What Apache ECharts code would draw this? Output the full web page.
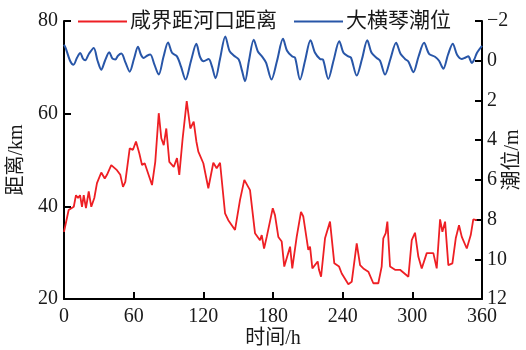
<!DOCTYPE html>
<html>
<head>
<meta charset="utf-8">
<script src="https://cdn.jsdelivr.net/npm/echarts@6/dist/echarts.min.js"></script>
<style>
  html, body { margin: 0; padding: 0; background: #fff; }
  #chart { width: 526px; height: 350px; }
</style>
</head>
<body>
<div id="chart"></div>
<script>
// Salt-intrusion front distance from the estuary mouth (km) vs. time (h)
const distHours = [0, 1.1, 4.0, 8.4, 10.3, 12.1, 13.8, 15.5, 17.0, 18.9, 21.3, 23.5, 26.1, 28.4, 32.1, 35.1, 37.0, 40.7, 45.6, 48.5,
  50.8, 52.8, 56.6, 59.4, 62.0, 64.9, 67.2, 69.5, 75.8, 78.6, 81.6, 83.8, 85.9, 88.1, 90.7, 94.5, 97.3, 99.3, 102.2, 105.7,
  108.8, 111.7, 114.0, 115.7, 120.0, 124.3, 128.6, 131.5, 134.4, 138.7, 141.5, 147.3, 151.6, 155.3, 160.2, 164.5, 168.8, 170.3, 172.3, 174.6,
  179.8, 181.7, 184.6, 187.5, 189.7, 194.7, 196.6, 200.4, 204.1, 206.1, 210.4, 211.9, 213.9, 218.5, 219.6, 221.4, 224.8, 229.1, 232.8, 236.9,
  239.2, 244.9, 247.8, 252.1, 255.0, 257.8, 262.1, 266.4, 270.7, 273.6, 275.0, 277.1, 278.5, 280.8, 285.1, 289.4, 296.6, 299.5, 302.3, 305.2,
  308.1, 312.4, 318.1, 321.0, 323.9, 325.9, 328.2, 331.0, 334.5, 337.4, 340.2, 342.6, 346.9, 350.3, 352.5, 355.5];
const distKm = [34.5, 34.9, 39.2, 39.9, 42.4, 41.8, 42.4, 39.9, 42.4, 39.6, 43.2, 39.9, 41.8, 45.0, 47.3, 46.0, 46.8, 48.9, 47.8, 46.8,
  44.2, 45.3, 52.5, 52.2, 54.0, 51.4, 48.9, 49.3, 44.6, 49.6, 60.1, 54.7, 53.2, 56.8, 49.6, 48.5, 50.4, 46.8, 54.7, 62.7,
  56.8, 58.3, 54.0, 51.8, 49.3, 43.9, 49.4, 48.2, 49.4, 38.5, 37.0, 34.9, 41.4, 45.7, 43.5, 34.2, 32.7, 33.8, 30.9, 33.4,
  39.6, 38.1, 33.4, 32.4, 27.0, 31.3, 26.6, 33.4, 38.8, 37.8, 30.6, 31.3, 26.6, 28.1, 26.3, 24.8, 33.1, 36.7, 27.7, 27.0,
  25.5, 23.2, 23.7, 32.0, 27.3, 26.6, 25.9, 23.4, 23.4, 27.0, 33.1, 34.2, 36.7, 27.0, 26.3, 26.3, 24.8, 32.7, 34.3, 29.1,
  26.6, 29.9, 29.9, 26.6, 37.2, 34.5, 36.7, 27.3, 27.7, 33.1, 35.9, 33.4, 30.9, 33.8, 37.2, 37.0];

// Tide level at Dahengqin (m)
const tideHours = [0, 1.7, 5.2, 8.2, 11.2, 14.0, 16.4, 18.3, 21.5, 25.6, 28.9, 32.1, 35.3, 39.0, 41.8, 44.2, 46.5, 49.4, 53.0, 56.6,
  60.3, 63.7, 66.3, 68.6, 71.5, 74.3, 77.9, 81.6, 85.7, 89.6, 93.0, 97.3, 100.8, 104.7, 109.4, 114.0, 117.1, 120.3, 124.6, 127.5,
  130.5, 134.4, 138.9, 142.5, 146.2, 150.5, 153.3, 155.9, 159.3, 163.4, 167.1, 170.5, 174.0, 178.7, 183.5, 188.6, 192.1, 196.4, 199.0, 203.3,
  207.6, 212.3, 216.2, 220.5, 223.1, 227.6, 232.1, 237.1, 240.7, 244.9, 247.2, 252.1, 256.7, 261.2, 264.9, 269.3, 272.2, 276.5, 281.2, 286.0,
  289.8, 293.7, 296.7, 300.9, 305.3, 310.1, 314.4, 319.5, 323.0, 326.7, 330.7, 334.8, 338.5, 342.5, 345.4, 348.2, 351.2, 353.2, 355.7, 360];
const tideLevel = [-0.8, -0.6, 0.0, 0.2, -0.15, -0.39, -0.1, -0.02, -0.35, -0.64, 0.0, 0.45, 0.0, -0.42, -0.1, -0.06, -0.25, -0.36, 0.1, 0.55,
  -0.1, -0.7, -0.3, -0.14, -0.25, -0.31, 0.2, 0.7, -0.2, -0.92, -0.4, -0.22, 0.3, 0.95, 0.0, -0.85, -0.2, 0.03, -0.09, 0.3,
  0.88, -0.1, -1.22, -0.5, -0.26, -0.06, 0.5, 1.04, 0.0, -1.05, -0.45, -0.22, 0.1, 0.95, 0.0, -1.1, -0.5, -0.22, -0.15, 0.95,
  0.0, -1.03, -0.4, -0.09, -0.05, 0.92, 0.0, -0.98, -0.4, -0.22, -0.15, 0.75, -0.1, -1.03, -0.4, -0.14, 0.0, 0.7, -0.1, -0.9,
  -0.35, -0.09, 0.05, 0.58, -0.2, -0.9, -0.35, -0.2, 0.0, 0.4, -0.3, -0.86, -0.3, -0.09, -0.15, -0.22, 0.11, -0.05, -0.4, -0.75];

const seriesNames = ['咸界距河口距离', '大横琴潮位'];
const xAxisName = '时间/h';
const leftAxisName = '距离/km';
const rightAxisName = '潮位/m';

const FONT = "'Liberation Serif', 'Noto Sans CJK SC', serif";
const INK = '#1a1a1a';
const RED = '#ee1f24';
const BLUE = '#2856a8';

const pair = (xs, ys) => xs.map((x, i) => [x, ys[i]]);

const axisCommon = {
  axisLine: { show: true, onZero: false, lineStyle: { color: '#000', width: 2 } },
  axisTick: { show: true, inside: true, length: 7, lineStyle: { color: '#000', width: 2 } },
  splitLine: { show: false },
  axisLabel: { color: INK, fontFamily: FONT, fontSize: 20 },
  nameTextStyle: { color: INK, fontFamily: FONT, fontSize: 20 },
  nameMoveOverlap: false
};

const chart = echarts.init(document.getElementById('chart'), null, { renderer: 'canvas' });
chart.setOption({
  animation: false,
  backgroundColor: '#fff',
  grid: { left: 64, right: 44, top: 21, bottom: 51, containLabel: false, outerBoundsMode: 'none' },
  legend: {
    left: 78,
    top: 11,
    padding: 0,
    itemWidth: 49,
    itemHeight: 2,
    itemGap: 17,
    icon: 'rect',
    textStyle: { color: INK, fontFamily: FONT, fontSize: 21, padding: [0, 0, 0, -2] },
    data: seriesNames
  },
  xAxis: Object.assign({}, axisCommon, {
    type: 'value',
    min: 0,
    max: 360,
    interval: 60,
    name: xAxisName,
    nameLocation: 'middle',
    nameGap: 30,
    axisLabel: Object.assign({}, axisCommon.axisLabel, { margin: 8 })
  }),
  yAxis: [
    Object.assign({}, axisCommon, {
      type: 'value',
      position: 'left',
      min: 20,
      max: 80,
      interval: 20,
      name: leftAxisName,
      nameLocation: 'middle',
      nameGap: 37,
      nameRotate: 90,
      axisLabel: Object.assign({}, axisCommon.axisLabel, { margin: 6 })
    }),
    Object.assign({}, axisCommon, {
      type: 'value',
      position: 'right',
      inverse: true,
      min: -2,
      max: 12,
      interval: 2,
      name: rightAxisName,
      nameLocation: 'middle',
      nameGap: 21,
      nameRotate: 90,
      axisLabel: Object.assign({}, axisCommon.axisLabel, {
        margin: 5,
        formatter: v => (v < 0 ? '\u2212' + Math.abs(v) : String(v))
      })
    })
  ],
  series: [
    {
      name: seriesNames[0],
      type: 'line',
      yAxisIndex: 0,
      data: pair(distHours, distKm),
      symbol: 'none',
      lineStyle: { color: RED, width: 1.8 },
      itemStyle: { color: RED },
      z: 3
    },
    {
      name: seriesNames[1],
      type: 'line',
      yAxisIndex: 1,
      data: pair(tideHours, tideLevel),
      symbol: 'none',
      smooth: 0.3,
      lineStyle: { color: BLUE, width: 2 },
      itemStyle: { color: BLUE },
      z: 2
    }
  ]
});
</script>
</body>
</html>
